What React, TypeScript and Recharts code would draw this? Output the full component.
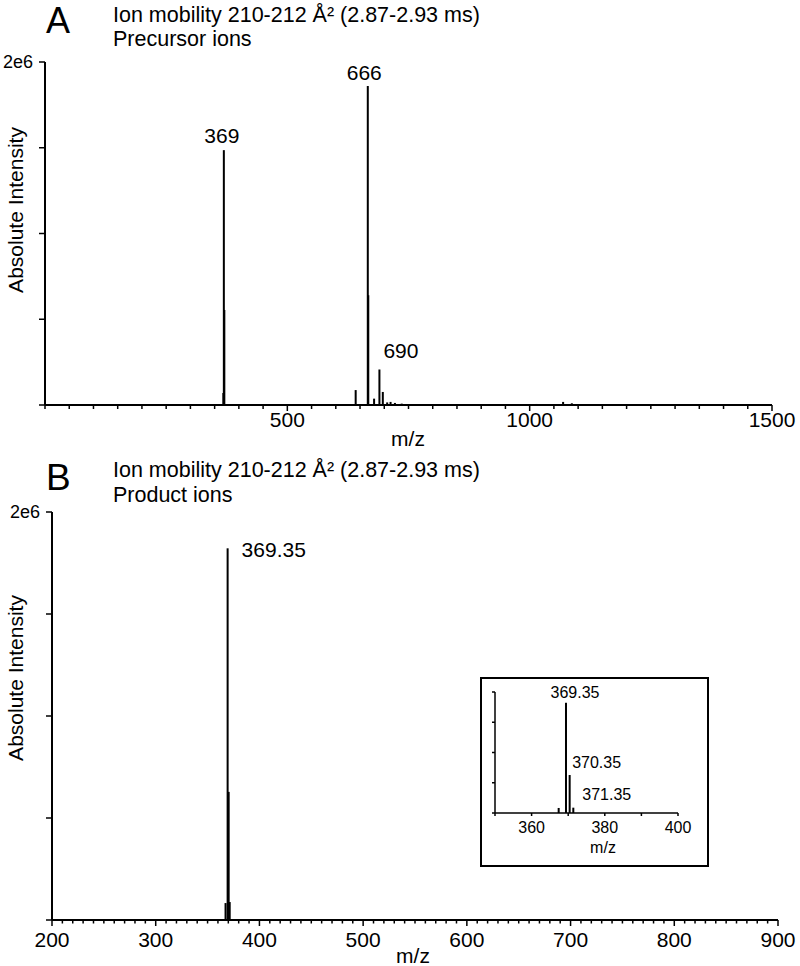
import React from 'react';
import { BarChart, Bar, XAxis, YAxis } from 'recharts';

const FONT = '"Liberation Sans", Arial, Helvetica, sans-serif';

// ---------- Panel A: precursor ions ----------
const precursorMz = [368, 369, 370, 641, 666, 667, 679, 690, 697, 706, 713, 722, 736, 1014, 1069, 1087];
const precursorIntensity = [70000, 1486000, 554000, 87000, 1860000, 640000, 37000, 207000, 76000, 15000, 18000, 12000, 8000, 6000, 18000, 10000];
const precursorLabels = ['', '369', '', '', '666', '', '', '690', '', '', '', '', '', '', '', ''];

// ---------- Panel B: product ions ----------
const productMz = [367.35, 369.35, 370.35, 371.35];
const productIntensity = [83000, 1822000, 628000, 88000];
const productLabels = ['', '369.35', '', ''];
const insetLabels = ['', '369.35', '370.35', '371.35'];

// ---------- axes ----------
const intensityDomain: [number, number] = [0, 2000000];
const intensityTicks = [0, 500000, 1000000, 1500000, 2000000];
const intensityTickLabels: Record<number, string> = { 2000000: '2e6' };

const precursorDomain: [number, number] = [0, 1500];
const precursorMajorTicks = [500, 1000, 1500];
const productDomain: [number, number] = [200, 900];
const productMajorTicks = [200, 300, 400, 500, 600, 700, 800, 900];
const insetDomain: [number, number] = [350, 400];
const insetMajorTicks = [360, 380, 400];

const range = (a: number, b: number, step: number) => {
  const out: number[] = [];
  for (let v = a; v <= b + 1e-9; v += step) out.push(Math.round(v * 100) / 100);
  return out;
};

const titleLine1 = 'Ion mobility 210-212 Å² (2.87-2.93 ms)';

type Peak = { mz: number; intensity: number; label: string };
const makePeaks = (mz: number[], inten: number[], labels: string[]): Peak[] =>
  mz.map((m, i) => ({ mz: m, intensity: inten[i], label: labels[i] }));

type Placement = { dx: number; dy: number; anchor: 'start' | 'middle' | 'end' };

interface SpectrumProps {
  width: number;
  height: number;
  margin: { top: number; right: number; left: number; bottom: number };
  yAxisWidth: number;
  xAxisHeight: number;
  data: Peak[];
  xDomain: [number, number];
  xTicks: number[];
  majorTicks: number[];
  majorLen: number;
  minorLen: number;
  xLabelDy: number;
  tickFont: number;
  yTickLen: number;
  yLabelFont: number;
  axisWidth: number;
  stickWidth: number;
  labelFont: number;
  placements: Record<string, Placement>;
  showYLabels: boolean;
}

function Spectrum(p: SpectrumProps) {
  const renderXTick = (t: any) => {
    const { x, y, payload } = t;
    const v = payload.value;
    const major = p.majorTicks.includes(v);
    return (
      <g key={`xt-${v}`}>
        <line x1={x} x2={x} y1={y} y2={y + (major ? p.majorLen : p.minorLen)} stroke="#000" strokeWidth={1.5} />
        {major && (
          <text x={x} y={y + p.xLabelDy} textAnchor="middle" fontFamily={FONT} fontSize={p.tickFont} fill="#000">
            {v}
          </text>
        )}
      </g>
    );
  };
  const renderYTick = (t: any) => {
    const { x, y, payload } = t;
    const v = payload.value;
    const lbl = intensityTickLabels[v];
    return (
      <g key={`yt-${v}`}>
        <line x1={x - p.yTickLen} x2={x} y1={y} y2={y} stroke="#000" strokeWidth={1.5} />
        {p.showYLabels && lbl && (
          <text x={x - 12} y={y + 6} textAnchor="end" fontFamily={FONT} fontSize={p.yLabelFont} fill="#000">
            {lbl}
          </text>
        )}
      </g>
    );
  };
  const renderStick = (s: any) => {
    const { x, y, width, height, payload } = s;
    const cx = x + width / 2;
    const pl = payload && payload.label ? p.placements[payload.label] : undefined;
    return (
      <g>
        <rect x={cx - p.stickWidth / 2} y={y} width={p.stickWidth} height={Math.max(height, 0)} fill="#000" />
        {pl && (
          <text x={cx + pl.dx} y={y + pl.dy} textAnchor={pl.anchor} fontFamily={FONT} fontSize={p.labelFont} fill="#000">
            {payload.label}
          </text>
        )}
      </g>
    );
  };
  return (
    <BarChart width={p.width} height={p.height} data={p.data} margin={p.margin} barCategoryGap={0} barGap={0}>
      <XAxis
        dataKey="mz"
        type="number"
        domain={p.xDomain}
        ticks={p.xTicks}
        interval={0}
        tickSize={0}
        tickMargin={0}
        tickLine={false}
        axisLine={{ stroke: '#000', strokeWidth: p.axisWidth }}
        tick={renderXTick}
        height={p.xAxisHeight}
      />
      <YAxis
        type="number"
        domain={intensityDomain}
        ticks={intensityTicks}
        interval={0}
        tickSize={0}
        tickMargin={0}
        tickLine={false}
        axisLine={{ stroke: '#000', strokeWidth: p.axisWidth }}
        tick={renderYTick}
        width={p.yAxisWidth}
      />
      <Bar dataKey="intensity" fill="#000" isAnimationActive={false} shape={renderStick} />
    </BarChart>
  );
}

export default function App() {
  const precursor = makePeaks(precursorMz, precursorIntensity, precursorLabels);
  const product = makePeaks(productMz, productIntensity, productLabels);
  const inset = makePeaks(productMz, productIntensity, insetLabels);

  const txt = { fontFamily: FONT, fill: '#000' } as const;

  return (
    <div style={{ position: 'absolute', left: 0, top: 0, width: 800, height: 966, background: '#fff', overflow: 'hidden' }}>
      <div style={{ position: 'absolute', left: 0, top: 0 }}>
        <Spectrum
          width={800}
          height={450}
          margin={{ top: 62, right: 28, left: 0, bottom: 0 }}
          yAxisWidth={45}
          xAxisHeight={45}
          data={precursor}
          xDomain={precursorDomain}
          xTicks={range(0, 1500, 50)}
          majorTicks={precursorMajorTicks}
          majorLen={6}
          minorLen={4}
          xLabelDy={22}
          tickFont={21}
          yTickLen={6}
          yLabelFont={18}
          axisWidth={2}
          stickWidth={2}
          labelFont={21}
          showYLabels
          placements={{
            '369': { dx: -2, dy: -7, anchor: 'middle' },
            '666': { dx: -3.5, dy: -6, anchor: 'middle' },
            '690': { dx: 4, dy: -11, anchor: 'start' },
          }}
        />
      </div>
      <div style={{ position: 'absolute', left: 0, top: 450 }}>
        <Spectrum
          width={800}
          height={516}
          margin={{ top: 62, right: 22, left: 0, bottom: 0 }}
          yAxisWidth={52}
          xAxisHeight={46}
          data={product}
          xDomain={productDomain}
          xTicks={range(200, 900, 10)}
          majorTicks={productMajorTicks}
          majorLen={6}
          minorLen={3.5}
          xLabelDy={27}
          tickFont={21}
          yTickLen={6}
          yLabelFont={18}
          axisWidth={2}
          stickWidth={2}
          labelFont={21}
          showYLabels
          placements={{
            '369.35': { dx: 14, dy: 8.5, anchor: 'start' },
          }}
        />
      </div>
      <div
        style={{
          position: 'absolute',
          left: 480,
          top: 677,
          width: 229,
          height: 190,
          border: '2px solid #000',
          boxSizing: 'border-box',
          background: '#fff',
        }}
      >
        <Spectrum
          width={225}
          height={186}
          margin={{ top: 13, right: 29, left: 0, bottom: 0 }}
          yAxisWidth={13}
          xAxisHeight={52}
          data={inset}
          xDomain={insetDomain}
          xTicks={range(350, 400, 10)}
          majorTicks={insetMajorTicks}
          majorLen={3}
          minorLen={3}
          xLabelDy={20}
          tickFont={16}
          yTickLen={3}
          yLabelFont={14}
          axisWidth={1.5}
          stickWidth={2}
          labelFont={16}
          showYLabels={false}
          placements={{
            '369.35': { dx: 9, dy: -5, anchor: 'middle' },
            '370.35': { dx: 2.5, dy: -7, anchor: 'start' },
            '371.35': { dx: 9, dy: -8, anchor: 'start' },
          }}
        />
      </div>
      <svg width={800} height={966} style={{ position: 'absolute', left: 0, top: 0, pointerEvents: 'none' }}>
        <text x={46} y={33} fontSize={36} {...txt}>A</text>
        <text x={113} y={22} fontSize={21.5} {...txt}>{titleLine1}</text>
        <text x={113} y={46} fontSize={21.5} {...txt}>Precursor ions</text>
        <text x={23} y={210} fontSize={21} textAnchor="middle" transform="rotate(-90 23 210)" {...txt}>Absolute Intensity</text>
        <text x={408} y={446} fontSize={21} textAnchor="middle" {...txt}>m/z</text>

        <text x={46} y={490} fontSize={37} {...txt}>B</text>
        <text x={113} y={477} fontSize={21.5} {...txt}>{titleLine1}</text>
        <text x={113} y={502} fontSize={21.5} {...txt}>Product ions</text>
        <text x={23} y={678} fontSize={21} textAnchor="middle" transform="rotate(-90 23 678)" {...txt}>Absolute Intensity</text>
        <text x={413} y={963} fontSize={21} textAnchor="middle" {...txt}>m/z</text>

        <text x={603} y={853} fontSize={16} textAnchor="middle" {...txt}>m/z</text>
      </svg>
    </div>
  );
}
